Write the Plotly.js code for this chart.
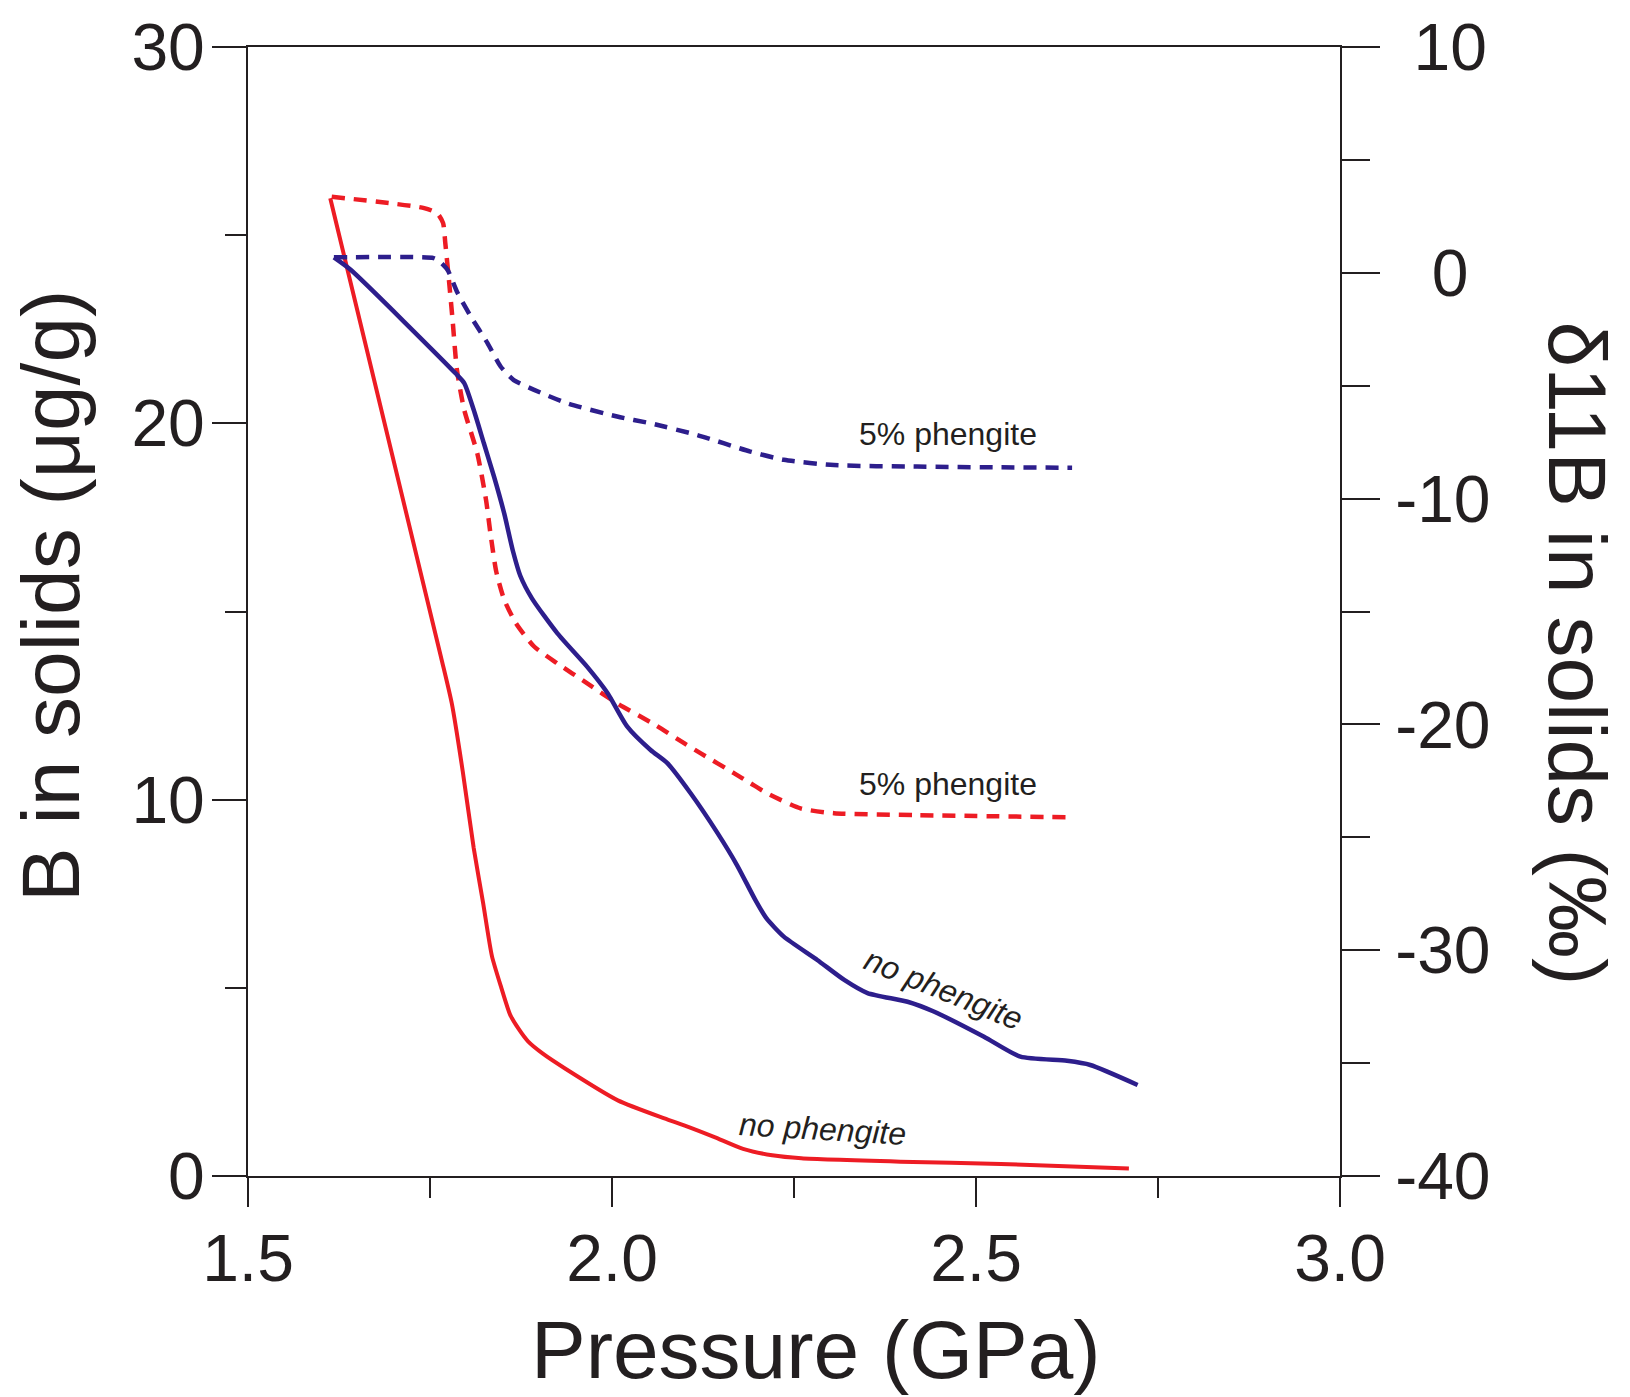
<!DOCTYPE html>
<html>
<head>
<meta charset="utf-8">
<script src="https://cdn.plot.ly/plotly-3.0.1.min.js"></script>
<style>
  html, body { margin: 0; padding: 0; background: #ffffff; }
  #chart { width: 1630px; height: 1397px; }
</style>
</head>
<body>
<div id="chart"></div>
<script>
// ---- Data ----
// Pressure (GPa) and B in solids (µg/g)

// Red solid: no phengite
const redNoPhP = [1.613, 1.765, 1.780, 1.795, 1.810, 1.823, 1.835, 1.848, 1.860, 1.872, 1.885, 1.905, 1.936, 2.008, 2.072, 2.100, 2.140, 2.180, 2.220, 2.260, 2.396, 2.534, 2.710];
const redNoPhB = [25.98, 13.80, 12.55, 10.75, 8.72, 7.25, 5.85, 5.00, 4.29, 3.90, 3.57, 3.25, 2.85, 2.01, 1.53, 1.34, 1.04, 0.72, 0.55, 0.47, 0.38, 0.32, 0.20];

// Red dashed: 5% phengite
const red5P = [1.615, 1.742, 1.760, 1.768, 1.771, 1.776, 1.781, 1.787, 1.797, 1.815, 1.827, 1.833, 1.841, 1.852, 1.868, 1.893, 1.925, 1.966, 2.007, 2.060, 2.099, 2.122, 2.168, 2.190, 2.213, 2.259, 2.305, 2.419, 2.630];
const red5B = [26.02, 25.72, 25.58, 25.32, 24.79, 23.81, 22.75, 21.42, 20.36, 19.20, 17.96, 17.08, 16.06, 15.31, 14.69, 14.07, 13.62, 13.09, 12.56, 11.98, 11.50, 11.23, 10.70, 10.44, 10.17, 9.77, 9.64, 9.59, 9.53];

// Blue dashed: 5% phengite
const blue5P = [1.618, 1.755, 1.762, 1.774, 1.788, 1.806, 1.829, 1.847, 1.865, 1.893, 1.939, 2.007, 2.053, 2.117, 2.190, 2.236, 2.305, 2.419, 2.534, 2.632];
const blue5B = [24.41, 24.39, 24.32, 24.08, 23.46, 22.84, 22.13, 21.51, 21.15, 20.89, 20.53, 20.18, 20.00, 19.69, 19.25, 19.03, 18.89, 18.85, 18.83, 18.82];

// Blue solid: no phengite
const blueNoPhP = [1.618, 1.641, 1.785, 1.797, 1.810, 1.824, 1.838, 1.852, 1.864, 1.874, 1.890, 1.925, 1.966, 1.994, 2.021, 2.053, 2.076, 2.108, 2.145, 2.172, 2.197, 2.212, 2.236, 2.282, 2.319, 2.351, 2.406, 2.442, 2.511, 2.561, 2.625, 2.657, 2.722];
const blueNoPhB = [24.41, 24.08, 21.33, 21.07, 20.36, 19.47, 18.58, 17.60, 16.60, 15.95, 15.35, 14.42, 13.53, 12.83, 11.94, 11.32, 10.97, 10.17, 9.11, 8.25, 7.33, 6.85, 6.36, 5.74, 5.21, 4.86, 4.63, 4.37, 3.70, 3.17, 3.06, 2.95, 2.42];

// Axis tick labels
const xTickVals = [1.5, 2.0, 2.5, 3.0];
const xTickText = ['1.5', '2.0', '2.5', '3.0'];
const yTickVals = [0, 10, 20, 30];
const yTickText = ['0', '10', '20', '30'];
const y2TickVals = [-40, -30, -20, -10, 0, 10];
const y2TickText = ['-40', '-30', '-20', '-10', '\u00a0\u00a00', '\u00a010'];

// Curve labels
const labelText = ['5% phengite', '5% phengite', 'no phengite', 'no phengite'];
const labelP = [2.461, 2.461, 2.455, 2.289];
const labelB = [19.72, 10.42, 4.97, 1.25];
const labelAngle = [0, 0, 22, 3.4];
const labelItalic = [false, false, true, true];

// ---- Styling ----
const RED = '#ED1C24';
const BLUE = '#2D1E8C';
const INK = '#231F20';
const FONT = 'Liberation Sans, Arial, Helvetica, sans-serif';

const traces = [
  { x: redNoPhP, y: redNoPhB, mode: 'lines', name: 'no phengite (red)',
    line: { color: RED, width: 4, shape: 'spline', smoothing: 0.6 } },
  { x: red5P, y: red5B, mode: 'lines', name: '5% phengite (red)',
    line: { color: RED, width: 4.5, dash: '13px,9px', shape: 'spline', smoothing: 0.6 } },
  { x: blue5P, y: blue5B, mode: 'lines', name: '5% phengite (blue)',
    line: { color: BLUE, width: 4.5, dash: '13px,9px', shape: 'spline', smoothing: 0.6 } },
  { x: blueNoPhP, y: blueNoPhB, mode: 'lines', name: 'no phengite (blue)',
    line: { color: BLUE, width: 4.5, shape: 'spline', smoothing: 0.6 } },
  { x: [], y: [], yaxis: 'y2', mode: 'lines', showlegend: false, hoverinfo: 'skip' }
];

const annotations = labelText.map((t, i) => ({
  text: labelItalic[i] ? '<i>' + t + '</i>' : t,
  x: labelP[i], y: labelB[i], xref: 'x', yref: 'y',
  xanchor: 'center', yanchor: 'middle', showarrow: false,
  textangle: labelAngle[i],
  font: { family: FONT, size: 32, color: INK }
}));

// Axis titles
annotations.push({
  text: 'Pressure (GPa)', xref: 'paper', yref: 'paper', x: 0.5201, y: -0.1539,
  xanchor: 'center', yanchor: 'middle', showarrow: false,
  font: { family: FONT, size: 82, color: INK }
});
annotations.push({
  text: 'B in solids (\u03bcg/g)', xref: 'paper', yref: 'paper', x: -0.1813, y: 0.5137,
  xanchor: 'center', yanchor: 'middle', showarrow: false, textangle: -90,
  font: { family: FONT, size: 82, color: INK }
});
annotations.push({
  text: '\u03b411B in solids (\u2030)', xref: 'paper', yref: 'paper', x: 1.2175, y: 0.4632,
  xanchor: 'center', yanchor: 'middle', showarrow: false, textangle: 90,
  font: { family: FONT, size: 82, color: INK }
});

const tickFont = { family: FONT, size: 66, color: INK };

const layout = {
  width: 1630, height: 1397,
  margin: { l: 248, r: 290, t: 47, b: 221, pad: 0 },
  paper_bgcolor: '#ffffff', plot_bgcolor: '#ffffff',
  showlegend: false,
  xaxis: {
    range: [1.5, 3.0], tickvals: xTickVals, ticktext: xTickText,
    ticks: 'outside', ticklen: 29, tickwidth: 2, tickcolor: INK,
    ticklabelstandoff: -5,
    minor: { tickvals: [1.75, 2.25, 2.75], ticks: 'outside', ticklen: 20, tickwidth: 2, tickcolor: INK },
    showline: true, linewidth: 2, linecolor: INK, mirror: true,
    showgrid: false, zeroline: false, tickfont: tickFont, fixedrange: true
  },
  yaxis: {
    range: [0, 30], tickvals: yTickVals, ticktext: yTickText,
    ticks: 'outside', ticklen: 34, tickwidth: 2, tickcolor: INK,
    ticklabelstandoff: -6,
    minor: { tickvals: [5, 15, 25], ticks: 'outside', ticklen: 21, tickwidth: 2, tickcolor: INK },
    showline: true, linewidth: 2, linecolor: INK,
    showgrid: false, zeroline: false, tickfont: tickFont, fixedrange: true
  },
  yaxis2: {
    overlaying: 'y', side: 'right', anchor: 'x',
    range: [-40, 10], tickvals: y2TickVals, ticktext: y2TickText,
    ticks: 'outside', ticklen: 38, tickwidth: 2, tickcolor: INK,
    ticklabelstandoff: 2,
    minor: { tickvals: [-35, -25, -15, -5, 5], ticks: 'outside', ticklen: 28, tickwidth: 2, tickcolor: INK },
    showline: true, linewidth: 2, linecolor: INK,
    showgrid: false, zeroline: false, tickfont: tickFont, fixedrange: true
  },
  annotations: annotations
};

Plotly.newPlot('chart', traces, layout, { staticPlot: true, displayModeBar: false });
</script>
</body>
</html>
